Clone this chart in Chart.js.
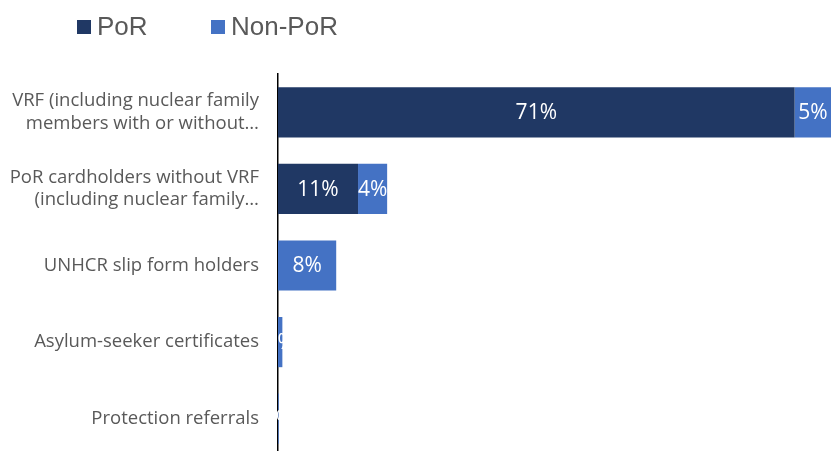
<!DOCTYPE html>
<html>
<head>
<meta charset="utf-8">
<script src="https://cdn.jsdelivr.net/npm/chart.js@4.4.0/dist/chart.umd.min.js"></script>
<style>
  html, body { margin: 0; padding: 0; background: #fff; overflow: hidden; }
  #wrap { position: relative; width: 831px; height: 451px; overflow: hidden; }
  #legend { position: absolute; left: 77px; top: 11px; font-family: "Liberation Sans", Arial, sans-serif; font-size: 26px; color: #595959; }
  #legend span.item { position: absolute; white-space: nowrap; top: 0; }
  #legend i { display: inline-block; width: 14px; height: 14px; margin-right: 6px; vertical-align: 1px; }
</style>
</head>
<body>
<div id="wrap">
  <canvas id="chart" width="831" height="457"></canvas>
  <div id="legend"></div>
</div>
<script>
// categories
const categories = [
    ['VRF (including nuclear family', 'members with or without\u2026'],
    ['PoR cardholders without VRF', '(including nuclear family\u2026'],
    'UNHCR slip form holders',
    'Asylum-seeker certificates',
    'Protection referrals'
];
// series (percent)
const porValues = [71, 11, 0, 0, 0];
const nonPorValues = [5, 4, 8, 0.6, 0.1];
const seriesNames = ['PoR', 'Non-PoR'];
const seriesColors = ['#203864', '#4472C4'];

// legend in html
const legend = document.getElementById('legend');
const legendX = [0, 134];
seriesNames.forEach((name, i) => {
    const s = document.createElement('span');
    s.className = 'item';
    s.style.left = legendX[i] + 'px';
    s.innerHTML = '<i style="background:' + seriesColors[i] + '"></i>' + name;
    legend.appendChild(s);
});

// white value labels in the middle of each bar segment
const barLabels = {
    id: 'barLabels',
    afterDatasetsDraw(chart) {
        const ctx = chart.ctx;
        ctx.save();
        ctx.font = '21px "Open Sans", sans-serif';
        ctx.fillStyle = '#ffffff';
        ctx.textAlign = 'center';
        ctx.textBaseline = 'middle';
        chart.data.datasets.forEach((ds, di) => {
            chart.getDatasetMeta(di).data.forEach((bar, i) => {
                const v = ds.data[i];
                if (!v) return;
                const cx = (bar.x + bar.base) / 2;
                ctx.fillText(Math.round(v) + '%', cx, bar.y + 1);
            });
        });
        ctx.restore();
    }
};

const ctx = document.getElementById('chart').getContext('2d');
new Chart(ctx, {
    type: 'bar',
    data: {
        labels: categories,
        datasets: [
            { label: seriesNames[0], data: porValues, backgroundColor: seriesColors[0] },
            { label: seriesNames[1], data: nonPorValues, backgroundColor: seriesColors[1] }
        ]
    },
    options: {
        indexAxis: 'y',
        responsive: false,
        animation: false,
        layout: { padding: { top: 74, right: 0, bottom: 0, left: 0 } },
        datasets: { bar: { categoryPercentage: 1, barPercentage: 0.655 } },
        plugins: { legend: { display: false }, tooltip: { enabled: false } },
        scales: {
            x: {
                stacked: true,
                min: 0,
                max: 76,
                display: false
            },
            y: {
                stacked: true,
                grid: { display: false, drawTicks: false },
                border: { display: true, color: '#000000', width: 1.5 },
                ticks: {
                    color: '#595959',
                    font: { family: 'Open Sans', size: 18.5 },
                    padding: 19,
                    lineHeight: 1.3
                },
                afterFit(scale) {
                    scale.width = 278;
                    scale.paddingTop = 0;
                    scale.paddingBottom = 0;
                }
            }
        }
    },
    plugins: [barLabels]
});
</script>
</body>
</html>
